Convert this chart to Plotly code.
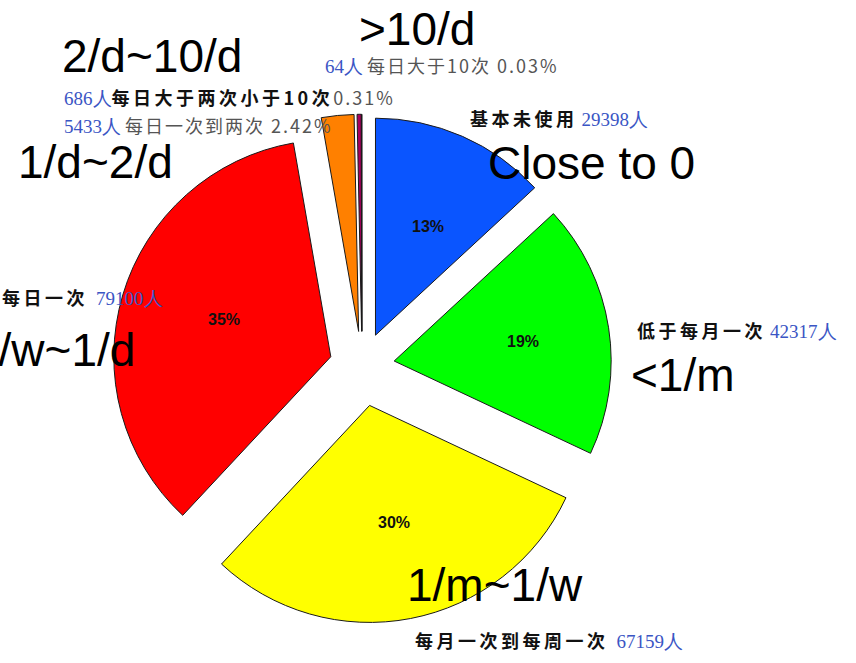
import math
import plotly.graph_objects as go

# Usage frequency groups, drawn clockwise from 12 o'clock
groups = ["基本未使用", "低于每月一次", "每月一次到每周一次", "每日一次",
          "每日一次到两次", "每日大于两次小于10次", "每日大于10次"]
people = [29398, 42317, 67159, 79100, 5433, 686, 64]
slice_colors = ["#0A55FF", "#00FF00", "#FFFF00", "#FF0000", "#FF8000", "#A8005E", "#5A0040"]
pulls = [0.155, 0.15, 0.185, 0.15, 0.16, 0.16, 0.16]
freq_tags = ["Close to 0", "<1/m", "1/m~1/w", "1/w~1/d", "1/d~2/d", "2/d~10/d", ">10/d"]

W, H = 856, 663
CX, CY = 362, 366          # pie centre, px
R = 217                    # pie radius, px
half = R * (1 + max(pulls))

NUM_COLOR = "#3A55C4"
GREY = "#555555"
CJK = "Noto Sans CJK SC, sans-serif"
SERIF = "Liberation Serif, Times New Roman, serif"


def px(x, y):
    return x / W, 1 - y / H


fig = go.Figure(go.Pie(
    labels=groups,
    values=people,
    sort=False,
    direction="clockwise",
    rotation=0,
    pull=pulls,
    marker=dict(colors=slice_colors, line=dict(color="#1a1a1a", width=1)),
    textinfo="none",
    hoverinfo="label+value+percent",
    showlegend=False,
    domain=dict(x=[(CX - half) / W, (CX + half) / W],
                y=[1 - (CY + half) / H, 1 - (CY - half) / H]),
))

annotations = []

# Percentages inside the four large slices
total = sum(people)
start = 0.0
for v, p in zip(people, pulls):
    span = 360.0 * v / total
    mid = math.radians(start + span / 2)
    start += span
    pct = 100.0 * v / total
    if pct < 5:
        continue
    r = (p + 0.6) * R
    x, y = px(CX + r * math.sin(mid), CY - r * math.cos(mid))
    annotations.append(dict(x=x, y=y, xref="paper", yref="paper", showarrow=False,
                            text=f"<b>{pct:.0f}%</b>",
                            font=dict(family="Arial, Liberation Sans", size=16, color="#111111")))


def num(s):
    return f'<span style="color:{NUM_COLOR};font-family:{SERIF};font-size:19px">{s}</span>'


def bold(s):
    return f'<span style="font-weight:bold;letter-spacing:3.5px">{s}</span>'


def grey(s):
    return f'<span style="color:{GREY};letter-spacing:2px">{s}</span>'


share = [100.0 * v / total for v in people]
# Group labels with head counts
labels_cn = [
    (468, 118, bold(groups[0]) + " " + num(f"{people[0]}人")),
    (635, 330, bold(groups[1]) + " " + num(f"{people[1]}人")),
    (413, 640, bold(groups[2]) + "  " + num(f"{people[2]}人")),
    (0, 297, bold(groups[3]) + "  " + num(f"{people[3]}人")),
    (62, 125, num(f"{people[4]}人") + " " + grey(f"{groups[4]} {share[4]:.2f}%")),
    (62, 97, num(f"{people[5]}人") + bold(groups[5]) + grey(f"{share[5]:.2f}%")),
    (323, 65, num(f"{people[6]}人") + " " + grey(f"{groups[6]} {share[6]:.2f}%")),
]
for x0, y0, t in labels_cn:
    x, y = px(x0, y0)
    annotations.append(dict(x=x, y=y, xref="paper", yref="paper", showarrow=False,
                            xanchor="left", yanchor="middle", text=t,
                            font=dict(family=CJK, size=18, color="#111111")))

# Large frequency tags
tag_pos = [
    (591, 163, "center"), (683, 375, "center"), (495, 585, "center"),
    (137, 350, "right"), (95, 162, "center"), (152, 56, "center"), (417, 29, "center"),
]
for tag, (x0, y0, anchor) in zip(freq_tags, tag_pos):
    x, y = px(x0, y0)
    annotations.append(dict(x=x, y=y, xref="paper", yref="paper", showarrow=False,
                            xanchor=anchor, yanchor="middle", text=tag,
                            font=dict(family="Arial, Liberation Sans", size=46, color="#000000")))

fig.update_layout(
    width=W, height=H,
    margin=dict(l=0, r=0, t=0, b=0),
    paper_bgcolor="white", plot_bgcolor="white",
    annotations=annotations,
)

fig.write_html("out.html")
